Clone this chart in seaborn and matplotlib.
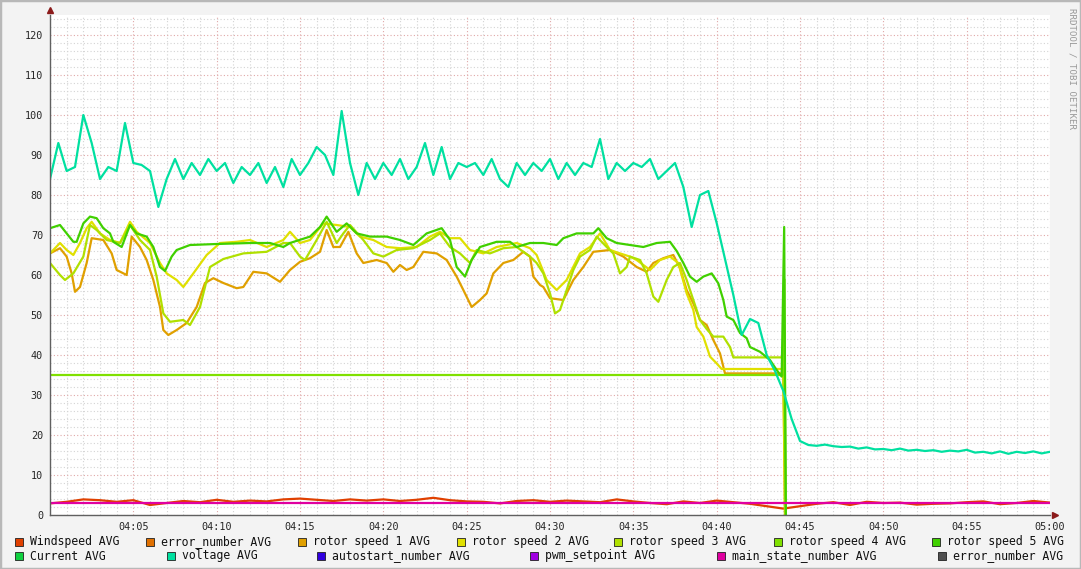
import numpy as np
import pandas as pd
import matplotlib
matplotlib.use('Agg')
import matplotlib.pyplot as plt
import matplotlib.dates as mdates
from matplotlib.ticker import MultipleLocator, FixedLocator
from matplotlib.patches import Rectangle
import seaborn as sns

sns.set_style('white')
plt.rcParams['font.family'] = ['DejaVu Sans Mono', 'DejaVu Sans']

base = pd.Timestamp('2016-01-01 04:00')

# values, time in minutes after 04:00 ----
wind_min = list(range(0, 61))
wind = [2.9, 3.3, 3.9, 3.7, 3.3, 3.7, 2.5, 3.0, 3.5, 3.2,
        3.8, 3.3, 3.6, 3.4, 3.9, 4.1, 3.8, 3.5, 3.9, 3.6,
        3.9, 3.5, 3.8, 4.3, 3.7, 3.4, 3.3, 2.9, 3.5, 3.7,
        3.3, 3.6, 3.4, 3.2, 3.9, 3.4, 3.0, 2.7, 3.4, 3.0,
        3.6, 3.2, 2.8, 2.2, 1.6, 2.2, 2.8, 3.2, 2.5, 3.3,
        3.0, 3.1, 2.6, 2.8, 2.9, 3.2, 3.4, 2.7, 3.0, 3.5,
        3.1]

rotor1_min = [0, 0.6, 1.0, 1.3, 1.5, 1.8, 2.2, 2.5, 3.2, 3.7, 4.0, 4.6, 4.9, 5.4, 5.8,
              6.2, 6.6, 6.8, 7.1, 7.6, 8.2, 8.8, 9.3, 9.8, 10.4, 11.2, 11.6, 12.2, 13.0,
              13.8, 14.4, 15.0, 15.6, 16.2, 16.6, 17.0, 17.4, 17.9, 18.4, 18.8, 19.6, 20.2,
              20.6, 21.0, 21.4, 21.8, 22.4, 23.2, 23.8, 24.4, 24.8, 25.3, 25.8, 26.2, 26.6,
              27.2, 27.8, 28.4, 28.8, 29.0, 29.4, 29.6, 30.0, 30.8, 31.4, 32.0, 32.6, 33.6,
              34.4, 35.2, 35.8, 36.2, 36.8, 37.4, 37.8, 38.2, 38.6, 39.0, 39.4, 39.8, 40.2,
              40.5, 44.0, 44.1]
rotor1 = [65.4, 66.7, 64.6, 60.4, 55.8, 57, 63, 69.2, 68.75, 65.4, 61.25, 60, 69.6, 67, 63.75,
          58.75, 52, 46.25, 45, 46.25, 48, 52, 58, 59.2, 58, 56.7, 57, 60.8, 60.4,
          58.3, 61.25, 63.3, 64.2, 65.8, 71.25, 67, 67, 70.8, 65.4, 63, 63.75, 63,
          60.8, 62.5, 61.25, 62, 65.8, 65.4, 63.75, 59.6, 56.25, 52, 53.75, 55.4, 60.4,
          63, 63.75, 65.8, 64.6, 59.6, 57.5, 57, 54.2, 53.75, 58.75, 62, 65.8, 66.25,
          64.6, 62, 60.8, 63, 64.2, 65, 61.7, 56.25, 52.9, 48.75, 47.5, 43.75, 40.4,
          35.4, 35.4, 0]

rotor2_min = [0, 0.6, 1.0, 1.4, 1.8, 2.2, 2.5, 3.0, 3.6, 4.2, 4.8, 5.2, 6.0, 6.6, 7.0, 7.6,
              8.0, 8.6, 9.4, 10.2, 11.2, 12.0, 13.0, 14.0, 14.4, 15.0, 15.6, 16.4, 17.2,
              18.0, 18.6, 19.4, 20.2, 21.0, 22.0, 22.8, 23.4, 24.0, 24.6, 25.2, 26.0, 26.8,
              28.0, 28.8, 29.2, 29.8, 30.4, 31.0, 31.8, 32.4, 33.0, 33.6, 34.2, 34.8, 35.2,
              36.0, 36.6, 37.2, 37.7, 38.2, 38.6, 38.8, 39.2, 39.6, 40.0, 40.3, 44.0, 44.1]
rotor2 = [65.4, 68, 66.25, 65, 68, 71.7, 73.3, 70.4, 68.75, 68, 73.3, 70.8, 68, 63, 60.4, 58.75,
          57, 60.4, 65, 68, 68.3, 68.75, 67, 68.75, 70.8, 68, 68.75, 72.9, 72.5,
          72, 69.6, 68.75, 67, 66.7, 67, 69.6, 70.8, 69.2, 69.2, 66.25, 65.4, 67,
          68, 66.7, 65, 58.75, 56.25, 58.75, 65.4, 67, 70.4, 66.25, 65.4, 64.6, 63.75,
          61.25, 63.75, 64.6, 63, 55.4, 51.25, 47, 44.6, 39.6, 37.9, 36.5, 36.5, 0]

rotor3_min = [0, 0.6, 0.9, 1.4, 2.0, 2.4, 2.8, 3.4, 4.2, 4.8, 5.4, 6.0, 6.4, 6.8, 7.2, 8.0,
              8.4, 9.0, 9.6, 10.4, 11.6, 13.0, 14.0, 14.4, 15.0, 15.3, 16.0, 16.6, 17.2,
              17.6, 18.0, 18.8, 19.4, 20.0, 20.8, 21.8, 22.8, 23.4, 24.0, 24.6, 25.2, 25.6,
              26.4, 27.2, 28.0, 28.8, 29.2, 29.6, 30.0, 30.3, 30.6, 31.0, 31.4, 31.8, 32.4,
              32.8, 33.4, 33.8, 34.2, 34.6, 34.8, 35.4, 35.8, 36.2, 36.5, 37.0, 37.4, 37.8,
              38.2, 38.6, 39.0, 39.4, 39.8, 40.4, 40.8, 41.0, 44.0, 44.1]
rotor3 = [63, 60, 58.75, 60.4, 64.6, 72.5, 71.25, 68.75, 68, 72.5, 68.75, 66.25, 59.6, 50.4,
          48.3, 48.75, 47.5, 52, 62, 64, 65.4, 65.8, 68, 68, 64.6, 63.75, 68.75, 73.3, 68,
          70.4, 72.5, 68.75, 65.4, 64.6, 66.25, 66.7, 68.75, 70.4, 67, 65.4, 63, 66.25,
          65.4, 66.7, 67, 64.6, 63, 60.4, 55.4, 50.4, 51.25, 56.25, 61.25, 64.6, 66.25,
          69.6, 67, 65.4, 60.4, 62, 64.6, 63.75, 60.4, 54.6, 53.3, 58.75, 62, 63,
          58.75, 53.75, 48.75, 46.5, 44.6, 44.6, 42, 39.4, 39.4, 12]

rotor4_min = [0, 44.0, 44.05, 44.15]
rotor4 = [35, 35, 59, 0]

rotor5_min = [0, 0.6, 1.0, 1.4, 1.6, 2.0, 2.4, 2.8, 3.2, 3.6, 3.8, 4.3, 4.8, 5.2, 5.8, 6.2,
              6.6, 6.9, 7.3, 7.6, 8.4, 10.0, 12.0, 13.2, 14.0, 14.4, 15.6, 16.2, 16.6, 17.2,
              17.8, 18.4, 19.2, 20.2, 21.0, 21.8, 22.6, 23.5, 24.0, 24.4, 24.9, 25.3, 25.8,
              26.8, 27.6, 28.0, 28.8, 29.6, 30.4, 30.8, 31.6, 32.6, 32.9, 33.4, 34.0, 34.8,
              35.6, 36.4, 37.2, 37.6, 38.0, 38.4, 38.8, 39.2, 39.7, 40.1, 40.4, 40.6, 41.0,
              41.4, 41.8, 42.0, 42.6, 43.2, 43.6, 43.9, 44.05, 44.15]
rotor5 = [71.7, 72.5, 70.4, 68.3, 68.3, 72.9, 74.6, 74.2, 71.7, 70.4, 68.3, 67, 72.5, 70.4,
          69.6, 67, 62, 61, 64.6, 66.25, 67.5, 67.75, 68, 68, 67, 68, 69.6, 72, 74.6, 70.8,
          72.9, 70.4, 69.6, 69.6, 68.75, 67.5, 70.4, 71.7, 68.75, 62, 59.6, 63.75, 67,
          68.3, 68.3, 67, 68, 68, 67.5, 69.2, 70.4, 70.4, 71.7, 69.2, 68, 67.5,
          67, 68, 68.3, 66, 63, 59.6, 58.3, 59.6, 60.4, 57.9, 53.75, 49.6, 48.75,
          45.5, 44.2, 42, 40.8, 38.75, 36.25, 34.6, 72, 0]

# voltage sampled every 30 s
volt_min = np.arange(0, 60.5, 0.5)
volt = [84, 93, 86, 87, 100, 93, 84, 87, 86, 98,
        88, 87.5, 86, 77, 84, 89, 84, 88, 85, 89,
        86, 88, 83, 87, 85, 88, 83, 87, 82, 89,
        85, 88, 92, 90, 85, 101, 88, 80, 88, 84,
        88, 85, 89, 84, 87, 93, 85, 92, 84, 88,
        87, 88, 85, 89, 84, 82, 88, 85, 88, 86,
        89, 84, 88, 85, 88, 87, 94, 84, 88, 86,
        88, 87, 89, 84, 86, 88, 82, 72, 80, 81,
        73, 64, 55, 45, 49, 48, 40, 36, 31, 24,
        18.5, 17.5, 17.3, 17.6, 17.2, 17.0, 17.1, 16.6, 16.9, 16.4,
        16.5, 16.2, 16.6, 16.1, 16.3, 16.0, 16.2, 15.8, 16.1, 15.9,
        16.3, 15.6, 15.8, 15.4, 15.9, 15.3, 15.8, 15.5, 15.9, 15.4,
        15.8]

state_min = [0, 60]
state = [2.9, 2.9]

legend_labels = ['Windspeed AVG', 'error_number AVG', 'rotor speed 1 AVG', 'rotor speed 2 AVG',
                 'rotor speed 3 AVG', 'rotor speed 4 AVG', 'rotor speed 5 AVG',
                 'Current AVG', 'voltage AVG', 'autostart_number AVG', 'pwm_setpoint AVG',
                 'main_state_number AVG', 'error_number AVG']
legend_colors = ['#E04000', '#E07000', '#E0A000', '#E0E000', '#B0E000', '#80E000', '#40D000',
                 '#10D040', '#00E0A0', '#3000E0', '#A000E0', '#E000A0', '#505050']
# legend layout in pixels (square x, text x, row y)
legend_pos = [(15, 30, 542), (146, 161, 542), (298, 313, 542), (457, 472, 542),
              (614, 629, 542), (774, 789, 542), (932, 947, 542),
              (15, 30, 556), (167, 182, 556), (317, 332, 556), (530, 545, 556),
              (717, 732, 556), (938, 953, 556)]


def to_time(m):
    return base + pd.to_timedelta(np.asarray(m, dtype=float), unit='m')


W, H = 1081, 569
fig = plt.figure(figsize=(W / 100, H / 100), dpi=100, facecolor='#f3f3f3')
ax = fig.add_axes([50 / W, 54 / H, 1000 / W, 500 / H])
ax.set_facecolor('white')

# draw in rrd order ----
series = [(wind_min, wind, '#E04000'),
          (rotor1_min, rotor1, '#E0A000'),
          (rotor2_min, rotor2, '#E0E000'),
          (rotor3_min, rotor3, '#B0E000'),
          (rotor4_min, rotor4, '#80E000'),
          (rotor5_min, rotor5, '#40D000'),
          (volt_min, volt, '#00E0A0'),
          (state_min, state, '#E000A0')]
for mins, vals, col in series:
    sns.lineplot(x=to_time(mins), y=vals, color=col, linewidth=1.6, ax=ax,
                 legend=False, estimator=None, sort=False)

# axes ----
t0 = mdates.date2num(base.to_pydatetime())
t1 = mdates.date2num((base + pd.Timedelta(minutes=60)).to_pydatetime())
ax.set_xlim(t0, t1)
ax.set_ylim(0, 125)
major_x = [mdates.date2num(t.to_pydatetime()) for t in to_time(range(5, 61, 5))]
minor_x = [mdates.date2num(t.to_pydatetime()) for t in to_time(range(1, 60))]
ax.xaxis.set_major_locator(FixedLocator(major_x))
ax.xaxis.set_minor_locator(FixedLocator(minor_x))
ax.xaxis.set_major_formatter(mdates.DateFormatter('%H:%M'))
ax.yaxis.set_major_locator(FixedLocator(range(0, 121, 10)))
ax.yaxis.set_minor_locator(MultipleLocator(2))

ax.grid(which='minor', color='#d4d4d4', linestyle=(0, (1, 2)), linewidth=0.8)
ax.grid(which='major', color='#e0a8a8', linestyle=(0, (1, 2)), linewidth=0.8)
ax.set_axisbelow(True)
ax.set_xlabel('')
ax.set_ylabel('')
ax.tick_params(axis='both', which='major', labelsize=7.3, length=2, color='#606060', pad=3)
ax.tick_params(axis='both', which='minor', length=0)
for s in ['top', 'right']:
    ax.spines[s].set_visible(False)
for s in ['left', 'bottom']:
    ax.spines[s].set_color('#606060')
    ax.spines[s].set_linewidth(1)

ax.plot([0], [1.01], marker='^', color='#8b1a1a', markersize=4, transform=ax.transAxes, clip_on=False)
ax.plot([1.005], [0], marker='>', color='#8b1a1a', markersize=4, transform=ax.transAxes, clip_on=False)

# legend ----
for lab, col, (sx, tx, ry) in zip(legend_labels, legend_colors, legend_pos):
    fig.patches.append(Rectangle((sx / W, 1 - (ry + 4) / H), 8 / W, 8 / H, transform=fig.transFigure,
                                 facecolor=col, edgecolor='#202020', linewidth=0.6))
    fig.text(tx / W, 1 - ry / H, lab, fontsize=8.3, va='center', ha='left', color='#101010')

fig.text(1072 / W, 1 - 8 / H, 'RRDTOOL / TOBI OETIKER', rotation=270, va='top', ha='center',
         fontsize=6.6, color='#9a9a9a')

fig.patches.append(Rectangle((0, 0), 1, 1, transform=fig.transFigure, fill=False,
                             edgecolor='#b8b8b8', linewidth=2.5))

fig.savefig('out.png', dpi=100, facecolor=fig.get_facecolor())
